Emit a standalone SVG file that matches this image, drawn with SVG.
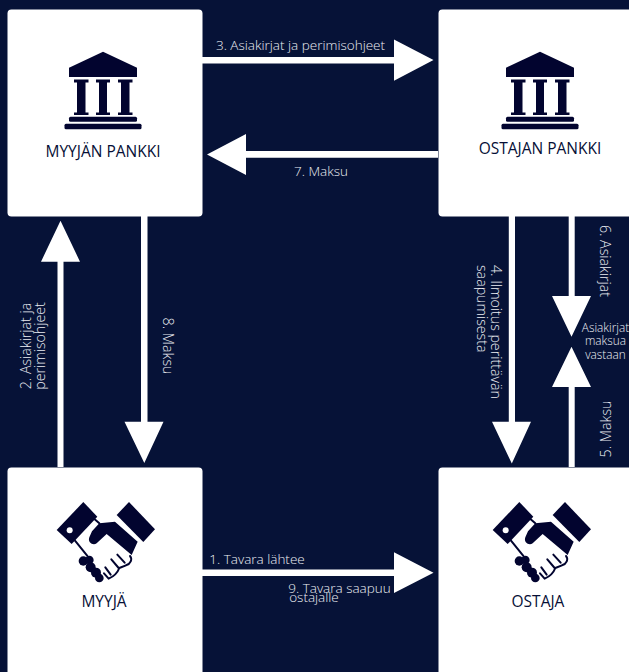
<svg xmlns="http://www.w3.org/2000/svg" width="629" height="672" viewBox="0 0 629 672">
<style>
.box{fill:#fff;stroke:none}
.ic{fill:#02042f}
.ln{fill:none;stroke:#02042f;stroke-width:6;stroke-linecap:round;stroke-linejoin:round}
.nl{font:15.5px "Open Sans","Noto Sans",sans-serif;fill:#060f36;text-anchor:middle}
.cl{font:300 13.500px "Open Sans","Noto Sans",sans-serif;fill:#eceef3;text-anchor:middle}
.vl{font:300 14.200px "Open Sans","Noto Sans",sans-serif;fill:#eceef3;text-anchor:middle}
.vs{font:300 14.200px "Open Sans","Noto Sans",sans-serif;fill:#eceef3;text-anchor:start}
.sm{font:300 11.800px "Open Sans","Noto Sans",sans-serif;fill:#eceef3;text-anchor:middle}
.ar{fill:#fff}
</style>
<defs>
<g id="bank">
<path class="ic" d="M103 51.700L137 67.700V77H69V67.700Z"/>
<path class="ic" d="M74 79.500H88.500V82.500H85.500V112.500H88.500V115H74V112.500H77V82.500H74Z"/>
<path class="ic" d="M96 79.500H110V82.500H107V112.500H110V115H96V112.500H99V82.500H96Z"/>
<path class="ic" d="M118 79.500H132.500V82.500H129.500V112.500H132.500V115H118V112.500H121V82.500H118Z"/>
<rect class="ic" x="69" y="116.700" width="68" height="5" rx="1.500"/>
<rect class="ic" x="64.500" y="123.700" width="77" height="5.500" rx="1.500"/>
</g>
<g id="hands" transform="scale(.3333)">
<path class="ic" d="M250 126L292 170L215 252L170 210Z"/>
<circle cx="209" cy="211" r="9" fill="#fff"/>
<path class="ic" d="M387 126L465 208L430 246L350 165Z"/>
<path class="ic" d="M298 190L345 185L413 245L395 285L320 222L290 250C280 258 262 248 268 232L276 214Z"/>
<path class="ln" d="M284 178L298 190M222 238L262 288"/>
<circle class="ic" cx="250" cy="303" r="14"/>
<circle class="ic" cx="268" cy="300" r="13"/>
<circle class="ic" cx="272" cy="322" r="15"/>
<circle class="ic" cx="288" cy="338" r="15"/>
<circle class="ic" cx="298" cy="354" r="13"/>
<path class="ln" d="M390 288C398 298 392 312 378 316L358 324C352 340 340 350 326 356L312 340"/>
<path class="ln" d="M352 284L374 308M334 298L356 324M316 322L332 344"/>
</g>
</defs>
<rect width="629" height="672" fill="#061237"/>
<g id="connectors">
<path id="c3" class="ar" d="M202 57H394V39.500L433.500 60L394 80.700V63.500H202Z"/>
<path id="c7" class="ar" d="M438 151V157.700H246V175L207 154.500L246 134V151Z"/>
<path id="c2" class="ar" d="M57.500 467V261.700H41L60.500 220.700L80 261.700H63.500V467Z"/>
<path id="c8" class="ar" d="M141 216V421.700H124.500L144.300 463L163.500 421.700H147.500V216Z"/>
<path id="c4" class="ar" d="M508.800 216V421.700H492L511.800 463.500L531 421.700H515V216Z"/>
<path id="c6" class="ar" d="M568.700 216V296H552L571.500 336.700L591 296H574.700V216Z"/>
<path id="c5" class="ar" d="M568.700 467V387H552L571.500 346.700L591 387H574.700V467Z"/>
<path id="c1" class="ar" d="M202 569.500H394V552.300L433.500 572.700L394 593V576H202Z"/>
</g>
<g id="labels">
<text class="cl" x="300.500" y="50">3. Asiakirjat ja perimisohjeet</text>
<text class="cl" x="321" y="176">7. Maksu</text>
<text class="cl" x="257" y="564">1. Tavara lähtee</text>
<text class="cl" x="339.500" y="593">9. Tavara saapuu</text>
<text class="cl" x="314" y="602">ostajalle</text>
<text class="vl" transform="translate(31 346) rotate(-90)"><tspan x="0" y="0">2. Asiakirjat ja</tspan><tspan x="0" y="14">perimisohjeet</tspan></text>
<text class="vl" transform="translate(163 346) rotate(90)">8. Maksu</text>
<text class="vs" transform="translate(491 265) rotate(90)"><tspan x="0" y="0">4. Ilmoitus perittävän</tspan><tspan x="0" y="14">saapumisesta</tspan></text>
<text class="vl" transform="translate(600 261) rotate(90)">6. Asiakirjat</text>
<text class="vl" transform="translate(611 429) rotate(-90)">5. Maksu</text>
<text class="sm" x="605.500" y="332">Asiakirjat</text>
<text class="sm" x="605.500" y="345">maksua</text>
<text class="sm" x="605.500" y="359">vastaan</text>
</g>
<g id="myyjan-pankki"><rect class="box" x="7.500" y="9.500" width="195" height="207" rx="4"/><use href="#bank"/><text class="nl" x="103" y="157">MYYJÄN PANKKI</text></g>
<g id="ostajan-pankki"><rect class="box" x="438.500" y="9.500" width="200" height="207" rx="4"/><use href="#bank" x="437"/><text class="nl" x="540" y="154">OSTAJAN PANKKI</text></g>
<g id="myyja"><rect class="box" x="7.500" y="467.500" width="195" height="215" rx="4"/><use href="#hands" y="460"/><text class="nl" x="104" y="607">MYYJÄ</text></g>
<g id="ostaja"><rect class="box" x="438.500" y="467.500" width="200" height="215" rx="4"/><use href="#hands" x="436" y="460"/><text class="nl" x="538" y="607">OSTAJA</text></g>
</svg>
